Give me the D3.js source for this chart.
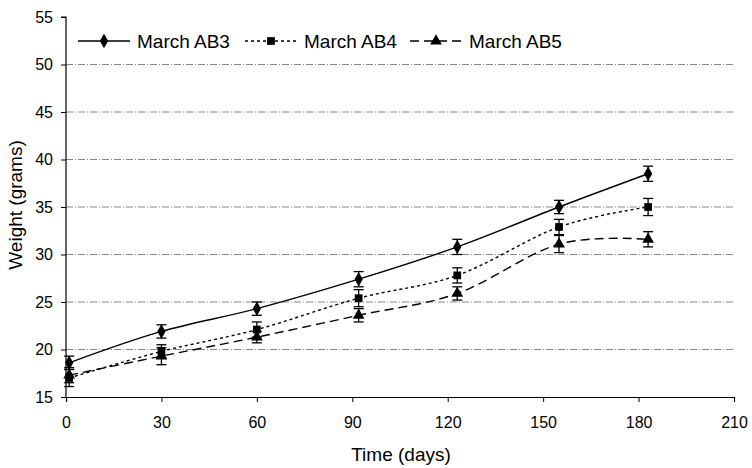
<!DOCTYPE html>
<html><head><meta charset="utf-8">
<script src="https://cdn.jsdelivr.net/npm/d3@7"></script>
<style>body{margin:0;background:#fff}svg{display:block;font-family:"Liberation Sans",Arial,sans-serif}</style>
</head><body><svg id="c" width="752" height="468"></svg>
<script>
const days = [1, 30, 60, 92, 123, 155, 183];
const ab3 = [18.6, 21.9, 24.3, 27.4, 30.8, 35.0, 38.5];
const ab3Err = [0.7, 0.7, 0.7, 0.8, 0.8, 0.7, 0.8];
const ab4 = [17.0, 19.8, 22.1, 25.4, 27.8, 32.9, 35.0];
const ab4Err = [0.9, 0.7, 0.8, 0.9, 0.8, 0.8, 0.9];
const ab5 = [17.3, 19.3, 21.3, 23.6, 25.9, 31.1, 31.6];
const ab5Err = [0.8, 0.9, 0.6, 0.7, 0.7, 0.9, 0.8];
const seriesNames = ["March AB3", "March AB4", "March AB5"];
const xTicks = [0, 30, 60, 90, 120, 150, 180, 210];
const yTicks = [15, 20, 25, 30, 35, 40, 45, 50, 55];

const svg = d3.select("#c");
const x = d3.scaleLinear().domain([0, 210]).range([66, 734]);
const y = d3.scaleLinear().domain([15, 55]).range([397, 17]);

// gridlines
svg.append("g").selectAll("line").data([20,25,30,35,40,45,50]).join("line")
  .attr("x1", x(0)).attr("x2", x(210)).attr("y1", d=>y(d)).attr("y2", d=>y(d))
  .attr("stroke", "#888").attr("stroke-width", 1).attr("stroke-dasharray", "7,2,1,2");

// axes
const yAxis = d3.axisLeft(y).tickValues(yTicks).tickSize(5).tickPadding(8);
const gy = svg.append("g").attr("transform", `translate(${x(0)},0)`).call(yAxis);
const xAxis = d3.axisBottom(x).tickValues(xTicks).tickSize(5).tickPadding(15);
const gx = svg.append("g").attr("transform", `translate(0,${y(15)})`).call(xAxis);
[gx, gy].forEach(g => {
  g.select(".domain").attr("stroke", "#000").attr("stroke-width", 1.2);
  g.selectAll(".tick line").attr("stroke", "#000");
  g.selectAll("text").attr("font-size", 16).attr("fill", "#000")
    .attr("font-family", '"Liberation Sans",Arial,sans-serif');
});
gy.select(".domain").attr("d", `M-5,${y(55)}H0V${y(15)}`);

// axis labels
svg.append("text").attr("x", 401).attr("y", 461).attr("text-anchor", "middle")
  .attr("font-size", 19).text("Time (days)");
svg.append("text").attr("transform", "translate(22,205) rotate(-90)").attr("text-anchor", "middle")
  .attr("font-size", 19).text("Weight (grams)");

const series = [
  {name: seriesNames[0], vals: ab3, err: ab3Err, dash: null, sym: d3.symbolDiamond, size: 60},
  {name: seriesNames[1], vals: ab4, err: ab4Err, dash: "3,3", sym: d3.symbolSquare, size: 60},
  {name: seriesNames[2], vals: ab5, err: ab5Err, dash: "9,5", sym: d3.symbolTriangle, size: 60}
];
const line = d3.line().x(d=>x(d[0])).y(d=>y(d[1])).curve(d3.curveCardinal.tension(0));

series.forEach(s => {
  const pts = days.map((d,i)=>[d, s.vals[i], s.err[i]]);
  const g = svg.append("g");
  g.append("path").attr("d", line(pts)).attr("fill", "none").attr("stroke", "#000")
    .attr("stroke-width", 1.4).attr("stroke-dasharray", s.dash);
  const eb = g.selectAll(".eb").data(pts).join("g");
  eb.append("line").attr("x1", d=>x(d[0])).attr("x2", d=>x(d[0]))
    .attr("y1", d=>y(d[1]+d[2])).attr("y2", d=>y(d[1]-d[2])).attr("stroke", "#000").attr("stroke-width", 1.3);
  [1,-1].forEach(sg => eb.append("line").attr("x1", d=>x(d[0])-5).attr("x2", d=>x(d[0])+5)
    .attr("y1", d=>y(d[1]+sg*d[2])).attr("y2", d=>y(d[1]+sg*d[2])).attr("stroke", "#000").attr("stroke-width", 1.3));
  g.selectAll(".m").data(pts).join("path")
    .attr("transform", d=>`translate(${x(d[0])},${y(d[1])})`)
    .attr("d", d3.symbol().type(s.sym).size(s.size)).attr("fill", "#000");
});

// legend
const legX = [78, 245, 410];
series.forEach((s, i) => {
  const g = svg.append("g").attr("transform", `translate(${legX[i]},41)`);
  g.append("line").attr("x1", 0).attr("x2", 52).attr("y1", 0).attr("y2", 0)
    .attr("stroke", "#000").attr("stroke-width", 1.4).attr("stroke-dasharray", s.dash);
  g.append("path").attr("transform", "translate(26,0)").attr("d", d3.symbol().type(s.sym).size(s.size)).attr("fill", "#000");
  g.append("text").attr("x", 59).attr("y", 6.5).attr("font-size", 19).text(s.name);
});
</script></body></html>
